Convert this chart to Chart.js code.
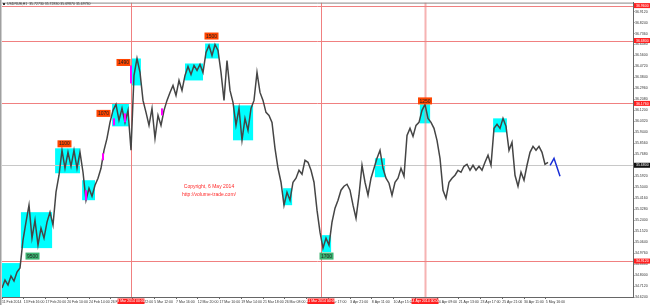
<!DOCTYPE html>
<html lang="en">
<head>
<meta charset="UTF-8">
<title>USDRUB,H1</title>
<script src="https://cdn.jsdelivr.net/npm/chart.js"></script>
<style>
  * { margin: 0; padding: 0; box-sizing: border-box; }
  body { width: 650px; height: 305px; background: #fff; overflow: hidden; }
  canvas { display: block; }
</style>
</head>
<body>
<canvas id="chart" width="650" height="305"></canvas>
<script>
// USDRUB H1, one sample roughly every 7 hourly bars
const closes = [
  34.696, 34.76, 34.72, 34.792, 34.752, 34.824, 34.856, 35.08, 35.224, 35.36,
  35.096, 35.24, 35.04, 35.176, 35.096, 35.224, 35.304, 35.2, 35.464, 35.6,
  35.8, 35.656, 35.784, 35.672, 35.8, 35.656, 35.784, 35.624, 35.4, 35.496,
  35.432, 35.52, 35.576, 35.656, 35.8, 35.896, 36.024, 36.12, 36.168, 36.04,
  36.136, 36.024, 36.12, 35.8, 36.4, 36.536, 36.424, 36.2, 36.104, 36.0,
  36.136, 35.896, 36.08, 36.0, 36.12, 36.2, 36.264, 36.32, 36.24, 36.36,
  36.28, 36.4, 36.472, 36.408, 36.48, 36.44, 36.488, 36.424, 36.584, 36.64,
  36.56, 36.648, 36.6, 36.424, 36.2, 36.52, 36.28, 36.184, 36.0, 36.136,
  35.88, 36.056, 35.96, 36.136, 36.2, 36.424, 36.264, 36.2, 36.104, 36.08,
  36.024, 35.816, 35.656, 35.544, 35.36, 35.464, 35.4, 35.544, 35.576, 35.64,
  35.608, 35.72, 35.704, 35.64, 35.544, 35.32, 35.144, 35.016, 35.096, 35.04,
  35.224, 35.336, 35.4, 35.48, 35.512, 35.528, 35.48, 35.36, 35.256, 35.44,
  35.68, 35.544, 35.44, 35.576, 35.656, 35.736, 35.8, 35.656, 35.576, 35.536,
  35.44, 35.544, 35.576, 35.656, 35.592, 35.92, 35.976, 35.912, 36.0, 36.024,
  36.12, 36.168, 36.056, 36.024, 35.976, 35.88, 35.736, 35.48, 35.416, 35.544,
  35.576, 35.6, 35.64, 35.624, 35.672, 35.688, 35.64, 35.68, 35.64, 35.672,
  35.64, 35.704, 35.76, 35.68, 35.976, 36.008, 35.976, 36.056, 35.992, 35.8,
  35.864, 35.6, 35.512, 35.624, 35.56, 35.68, 35.784, 35.832, 35.8, 35.832,
  35.784, 35.688, 35.704
];

// hand drawn projection at the end
const projTime = [182.7, 184, 186];
const projPrice = [35.68, 35.736, 35.592];

const timeTicks = [0, 7.25, 14.5, 21.75, 29, 36.25, 43.5, 50.75, 58, 65.25, 72.5, 79.75, 87,
  94.25, 101.5, 108.75, 116, 123.25, 130.5, 137.75, 145, 152.25, 159.5, 166.75, 174, 181.25];
const timeLabels = ['11 Feb 2014', '13 Feb 16:00', '17 Feb 20:00', '20 Feb 10:00', '24 Feb 14:00',
  '26 Feb 18:00', '28 Feb 22:00', '5 Mar 12:00', '7 Mar 16:00', '12 Mar 20:00', '17 Mar 10:00',
  '19 Mar 14:00', '21 Mar 18:00', '26 Mar 08:00', '28 Mar 12:00', '1 Apr 17:00', '3 Apr 21:00',
  '8 Apr 11:00', '10 Apr 15:00', '14 Apr 19:00', '16 Apr 09:00', '21 Apr 13:00', '23 Apr 17:00',
  '25 Apr 21:00', '30 Apr 11:00', '5 May 16:00'];

const priceTicks = [34.624, 34.712, 34.8, 34.888, 34.976, 35.064, 35.152, 35.24, 35.328, 35.416,
  35.504, 35.592, 35.68, 35.768, 35.856, 35.944, 36.032, 36.12, 36.208, 36.296, 36.384, 36.472,
  36.56, 36.648, 36.736, 36.824, 36.912];

const levels = [36.96, 36.68, 36.176, 34.912];
const bid = 35.68;

const markTimes = [43, 106.33, 141];
const markLabels = ['3 Mar 2014 00:00', '31 Mar 2014 00:00', '14 Apr 2014 00:00'];

// volume zones: [time from, time to, price low, price high]
const zones = [
  [0, 6, 34.624, 34.896], [6.3, 16.7, 35.016, 35.304], [17.7, 26, 35.616, 35.816],
  [26.7, 31, 35.4, 35.56], [36.7, 42.3, 35.992, 36.176], [43.3, 46.3, 36.32, 36.536],
  [61, 67, 36.36, 36.496], [67.7, 72.3, 36.536, 36.656], [77, 83.7, 35.88, 36.16],
  [93.7, 96.7, 35.36, 35.496], [106.7, 109.7, 34.984, 35.12], [124.3, 127.7, 35.584, 35.736],
  [139.3, 142.7, 36.016, 36.168], [163.7, 168.3, 35.944, 36.056]
];

const tagText = ['9500', '1100', '1070', '1490', '1500', '1700', '1250'];
const tagTime = [10.17, 20.83, 33.83, 40.5, 69.83, 108.17, 141];
const tagPrice = [34.952, 35.852, 36.096, 36.504, 36.716, 34.952, 36.196];
const tagKind = ['low', 'high', 'high', 'high', 'high', 'low', 'high'];

// big volume bars: [time, low, high]
const spikes = [[28, 35.4, 35.48], [33.67, 35.72, 35.776], [37.33, 36.0, 36.056],
  [41, 36.024, 36.096], [43, 36.336, 36.48], [53.33, 36.08, 36.136]];

const FONT = 'Liberation Sans, Arial, sans-serif';

const overlay = {
  id: 'overlay',
  beforeDatasetsDraw(chart) {
    const { ctx, chartArea: a, scales: { x, y } } = chart;
    ctx.save();
    ctx.beginPath();
    ctx.rect(a.left, a.top, a.width, a.height);
    ctx.clip();
    ctx.fillStyle = '#00ffff';
    zones.forEach(z => {
      const x0 = x.getPixelForValue(z[0]), x1 = x.getPixelForValue(z[1]);
      const y0 = y.getPixelForValue(z[3]), y1 = y.getPixelForValue(z[2]);
      ctx.fillRect(x0, y0, x1 - x0, y1 - y0);
    });
    ctx.lineWidth = 1;
    ctx.strokeStyle = '#c8c8c8';
    let py = Math.round(y.getPixelForValue(bid)) + 0.5;
    ctx.beginPath(); ctx.moveTo(a.left, py); ctx.lineTo(a.right, py); ctx.stroke();
    ctx.strokeStyle = '#f08080';
    levels.forEach(p => {
      py = Math.round(y.getPixelForValue(p)) + 0.5;
      ctx.beginPath(); ctx.moveTo(a.left, py); ctx.lineTo(a.right, py); ctx.stroke();
    });
    markTimes.forEach((t, i) => {
      const px = Math.round(x.getPixelForValue(t)) + 0.5;
      ctx.lineWidth = i === 2 ? 2 : 1;
      ctx.strokeStyle = i === 2 ? 'rgba(240,128,128,0.6)' : '#f08080';
      ctx.beginPath(); ctx.moveTo(px, a.top); ctx.lineTo(px, a.bottom); ctx.stroke();
    });
    ctx.restore();
  },
  afterDatasetsDraw(chart) {
    const { ctx, scales: { x, y } } = chart;
    ctx.save();
    ctx.fillStyle = '#ff00ff';
    spikes.forEach(s => {
      const px = x.getPixelForValue(s[0]);
      const y0 = y.getPixelForValue(s[2]), y1 = y.getPixelForValue(s[1]);
      ctx.fillRect(px - 1, y0, 2, y1 - y0);
    });
    ctx.font = '5px ' + FONT;
    ctx.textAlign = 'center';
    ctx.textBaseline = 'middle';
    tagText.forEach((t, i) => {
      const cx = x.getPixelForValue(tagTime[i]), cy = y.getPixelForValue(tagPrice[i]);
      ctx.fillStyle = tagKind[i] === 'high' ? '#ff4500' : '#3cb371';
      ctx.fillRect(cx - 7, cy - 3.5, 14, 7);
      ctx.fillStyle = '#222';
      ctx.fillText(t, cx, cy + 0.3);
    });
    // copyright note
    ctx.fillStyle = '#ff2a2a';
    ctx.font = '5px ' + FONT;
    const cx = x.getPixelForValue(69);
    ctx.fillText('Copyright, 6 May 2014', cx, y.getPixelForValue(35.512));
    ctx.fillText('http://volume-trade.com/', cx, y.getPixelForValue(35.448));
    ctx.restore();
  },
  afterDraw(chart) {
    const { ctx, chartArea: a, scales: { x, y } } = chart;
    ctx.save();
    // window frame
    ctx.fillStyle = '#a0a0a0';
    ctx.fillRect(0, 0, 1.5, 305);
    ctx.strokeStyle = '#888';
    ctx.lineWidth = 1;
    ctx.beginPath(); ctx.moveTo(a.left, a.top + 0.5); ctx.lineTo(a.right, a.top + 0.5); ctx.stroke();
    ctx.font = '3.5px ' + FONT;
    ctx.textBaseline = 'middle';
    ctx.textAlign = 'left';
    ctx.fillStyle = '#333';
    ctx.fillRect(3, 3, 2, 2);
    ctx.fillText('USDRUB,H1  35.72730 35.72830 35.69870 35.69730', 7, 4.2);
    // price flags on the right axis
    const flag = (p, bg) => {
      const cy = y.getPixelForValue(p);
      ctx.fillStyle = bg;
      ctx.fillRect(a.right + 1, cy - 2.5, 16, 5);
      ctx.fillStyle = '#fff';
      ctx.fillText(p.toFixed(4), a.right + 3, cy + 0.2);
    };
    levels.forEach(p => flag(p, '#ff2020'));
    flag(bid, '#111');
    // time flags under the axis
    ctx.textAlign = 'center';
    markTimes.forEach((t, i) => {
      const px = x.getPixelForValue(t);
      ctx.fillStyle = '#ff2020';
      ctx.fillRect(px - 13.5, a.bottom + 1.5, 27, 5.5);
      ctx.fillStyle = '#fff';
      ctx.fillText(markLabels[i], px, a.bottom + 4.4);
    });
    ctx.restore();
  }
};

new Chart(document.getElementById('chart'), {
  type: 'line',
  data: {
    datasets: [
      {
        data: closes.map((p, i) => ({ x: i, y: p })),
        borderColor: '#454545',
        borderWidth: 1.5,
        pointRadius: 0,
        tension: 0
      },
      {
        data: projTime.map((t, i) => ({ x: t, y: projPrice[i] })),
        borderColor: '#1a2fd6',
        borderWidth: 1.5,
        pointRadius: 0,
        tension: 0
      }
    ]
  },
  options: {
    responsive: false,
    animation: false,
    layout: { padding: { left: 2, top: 2, right: 0, bottom: 0 } },
    plugins: { legend: { display: false }, tooltip: { enabled: false } },
    scales: {
      x: {
        type: 'linear', min: 0, max: 210.33,
        afterBuildTicks: s => { s.ticks = timeTicks.map(v => ({ value: v })); },
        afterFit: s => { s.height = 8; },
        ticks: {
          autoSkip: false, maxRotation: 0, align: 'start', padding: 0.5,
          font: { size: 3.5, family: FONT }, color: '#333',
          callback: (v, i) => timeLabels[i]
        },
        grid: { drawOnChartArea: false, tickLength: 2, color: '#666' },
        border: { display: true, color: '#666' }
      },
      y: {
        position: 'right', min: 34.624, max: 36.984,
        afterBuildTicks: s => { s.ticks = priceTicks.map(v => ({ value: v })); },
        afterFit: s => { s.width = 17; },
        ticks: {
          padding: 0.5, font: { size: 3.5, family: FONT }, color: '#333',
          callback: v => v.toFixed(4)
        },
        grid: { drawOnChartArea: false, tickLength: 1.5, color: '#666' },
        border: { display: true, color: '#666' }
      }
    }
  },
  plugins: [overlay]
});
</script>
</body>
</html>
